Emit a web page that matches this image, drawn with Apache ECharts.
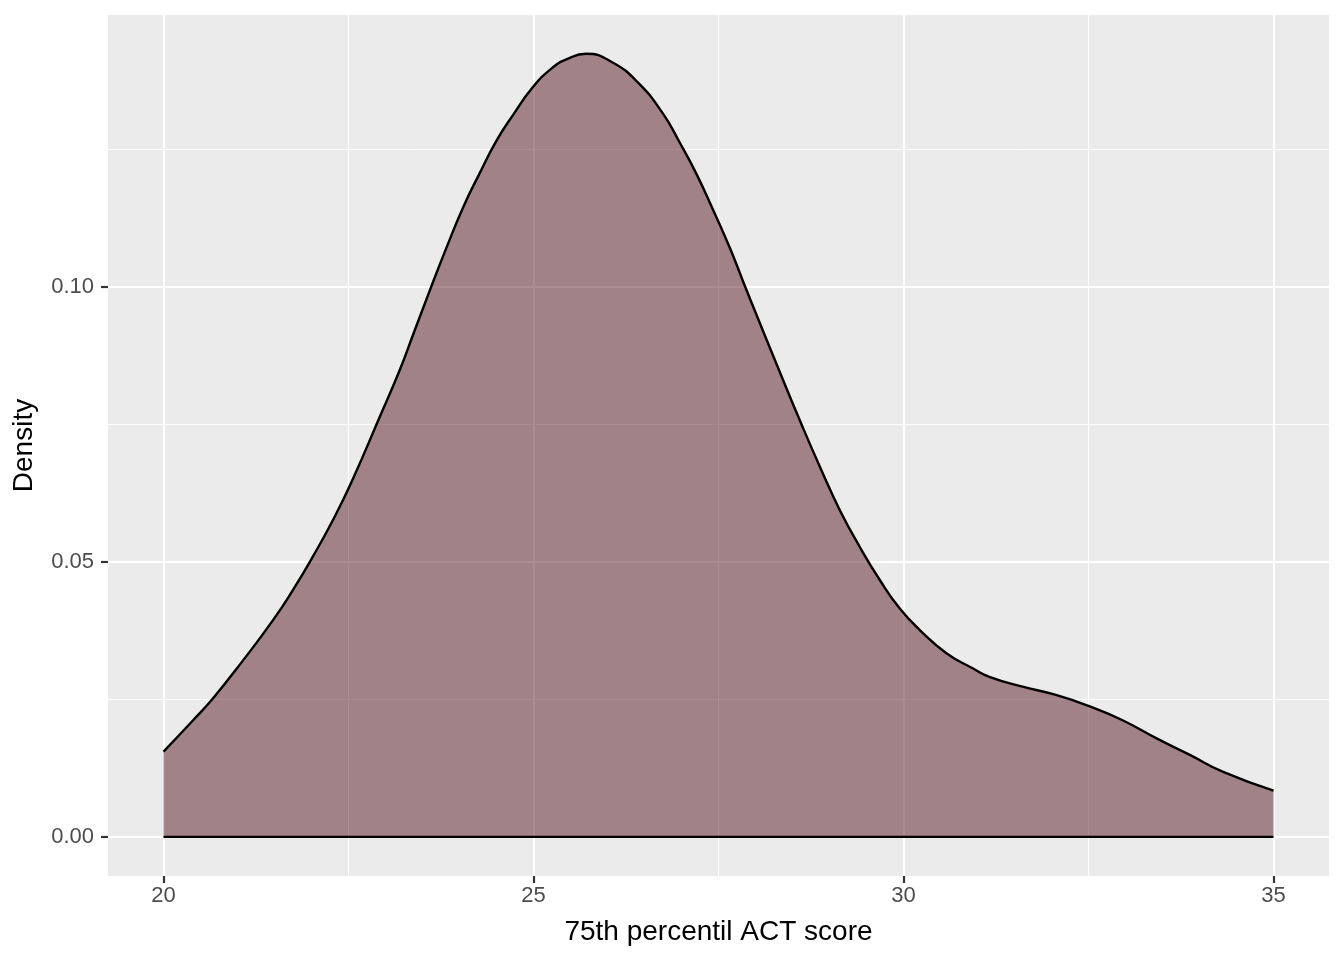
<!DOCTYPE html>
<html>
<head>
<meta charset="utf-8">
<script src="https://cdn.jsdelivr.net/npm/echarts@6/dist/echarts.min.js"></script>
<style>
html,body{margin:0;padding:0;background:#fff;}
#chart{width:1344px;height:960px;}
</style>
</head>
<body>
<div id="chart"></div>
<script>
// Density curve (x = 75th percentile ACT score, y = density)
const densityX = [20.00, 20.40, 20.67, 21.07, 21.48, 21.75, 22.02, 22.29, 22.55, 22.92, 23.19, 23.37, 23.60, 23.82, 24.05, 24.27, 24.50, 24.72, 24.99, 25.26, 25.45, 25.71, 26.07, 26.43, 26.75, 26.97, 27.20, 27.42, 27.65, 27.87, 28.05, 28.32, 28.60, 28.87, 29.14, 29.41, 29.68, 29.95, 30.22, 30.58, 30.94, 31.16, 31.61, 32.06, 32.50, 32.96, 33.42, 33.87, 34.32, 35.00];
const densityY = [0.0155, 0.0212, 0.0252, 0.0320, 0.0394, 0.0449, 0.0510, 0.0576, 0.0648, 0.0763, 0.0848, 0.0912, 0.0994, 0.1070, 0.1145, 0.1206, 0.1266, 0.1312, 0.1363, 0.1399, 0.1414, 0.1424, 0.1408, 0.1369, 0.1315, 0.1264, 0.1206, 0.1142, 0.1072, 0.0997, 0.0937, 0.0848, 0.0757, 0.0673, 0.0594, 0.0527, 0.0467, 0.0415, 0.0376, 0.0334, 0.0306, 0.0291, 0.0273, 0.0258, 0.0238, 0.0212, 0.0179, 0.0149, 0.0118, 0.0084];
const baselineX = [20, 35];
const baselineY = [0, 0];
const xTicks = [20, 25, 30, 35];
const xMinor = [22.5, 27.5, 32.5];
const yTicks = [0, 0.05, 0.10];
const yMinor = [0.025, 0.075, 0.125];
const xRange = [19.25, 35.75];
const yRange = [-0.00712, 0.14944];
const xTitle = '75th percentil ACT score';
const yTitle = 'Density';

const chart = echarts.init(document.getElementById('chart'), null, {renderer: 'canvas'});
const font = 'Liberation Sans, Arial, Helvetica, sans-serif';
const zip = (a, b) => a.map((v, i) => [v, b[i]]);

const grid = {left: 108, right: 15, top: 15, bottom: 84, show: true, backgroundColor: '#EBEBEB', borderWidth: 0, containLabel: false};

const option = {
  animation: false,
  backgroundColor: '#ffffff',
  grid: [grid, Object.assign({}, grid, {show: false})],
  xAxis: [
    {
      type: 'value', gridIndex: 0, min: xRange[0], max: xRange[1], position: 'bottom',
      axisLine: {show: false, onZero: false},
      axisTick: {show: true, length: 7, lineStyle: {color: '#333333', width: 2.2}, customValues: xTicks},
      axisLabel: {customValues: xTicks, color: '#4D4D4D', fontSize: 22, fontFamily: font, margin: 9, formatter: v => String(v)},
      splitLine: {show: true, lineStyle: {color: '#ffffff', width: 2.1}},
      name: xTitle, nameLocation: 'middle', nameGap: 42,
      nameTextStyle: {color: '#000000', fontSize: 28, fontFamily: font}
    },
    {
      type: 'value', gridIndex: 1, min: xRange[0], max: xRange[1],
      axisLine: {show: false, onZero: false},
      axisTick: {show: false, customValues: xMinor},
      axisLabel: {show: false, customValues: xMinor},
      splitLine: {show: true, lineStyle: {color: '#ffffff', width: 1}}
    }
  ],
  yAxis: [
    {
      type: 'value', gridIndex: 0, min: yRange[0], max: yRange[1], position: 'left',
      axisLine: {show: false, onZero: false},
      axisTick: {show: true, length: 7, lineStyle: {color: '#333333', width: 2.2}, customValues: yTicks},
      axisLabel: {customValues: yTicks, color: '#4D4D4D', fontSize: 22, fontFamily: font, margin: 14, formatter: v => v.toFixed(2)},
      splitLine: {show: true, lineStyle: {color: '#ffffff', width: 2.1}},
      name: yTitle, nameLocation: 'middle', nameGap: 70, nameRotate: 90,
      nameTextStyle: {color: '#000000', fontSize: 28, fontFamily: font}
    },
    {
      type: 'value', gridIndex: 1, min: yRange[0], max: yRange[1],
      axisLine: {show: false, onZero: false},
      axisTick: {show: false, customValues: yMinor},
      axisLabel: {show: false, customValues: yMinor},
      splitLine: {show: true, lineStyle: {color: '#ffffff', width: 1}}
    }
  ],
  series: [
    {
      type: 'line', xAxisIndex: 0, yAxisIndex: 0,
      data: zip(densityX, densityY),
      smooth: 0.5, symbol: 'none',
      lineStyle: {color: '#000000', width: 2.4},
      areaStyle: {color: 'rgb(87,25,33)', opacity: 0.5, origin: 0},
      z: 3
    },
    {
      type: 'line', xAxisIndex: 0, yAxisIndex: 0,
      data: zip(baselineX, baselineY),
      symbol: 'none',
      lineStyle: {color: '#000000', width: 2.4},
      z: 4
    }
  ]
};
chart.setOption(option);
</script>
</body>
</html>
